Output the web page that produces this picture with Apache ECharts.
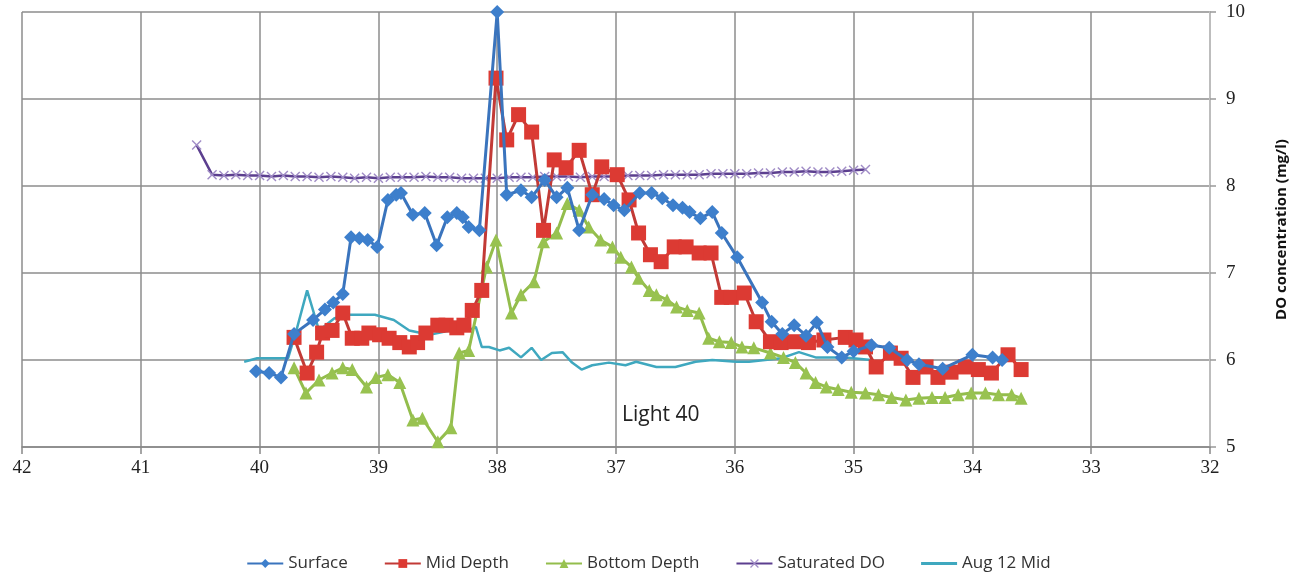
<!DOCTYPE html>
<html>
<head>
<meta charset="utf-8">
<script src="https://cdn.jsdelivr.net/npm/echarts@6/dist/echarts.min.js"></script>
<style>
  html, body { margin: 0; padding: 0; background: #fff; }
  #chart { width: 1297px; height: 581px; }
</style>
</head>
<body>
<div id="chart"></div>
<script>
// distance (x) and DO (mg/l)
const surfaceX = [40.03, 39.92, 39.82, 39.71, 39.55, 39.45, 39.38, 39.30, 39.23, 39.16, 39.09, 39.01, 38.92, 38.85, 38.81, 38.71, 38.61, 38.51, 38.42, 38.34, 38.29, 38.24, 38.15, 38.00, 37.92, 37.80, 37.71, 37.60, 37.50, 37.41, 37.31, 37.20, 37.10, 37.02, 36.93, 36.80, 36.70, 36.61, 36.52, 36.44, 36.38, 36.29, 36.19, 36.11, 35.98, 35.77, 35.69, 35.60, 35.50, 35.40, 35.31, 35.22, 35.10, 35.00, 34.85, 34.70, 34.55, 34.45, 34.25, 34.00, 33.83, 33.75];
const surfaceY = [5.87, 5.85, 5.80, 6.30, 6.46, 6.58, 6.66, 6.76, 7.41, 7.40, 7.38, 7.30, 7.84, 7.90, 7.92, 7.67, 7.69, 7.32, 7.64, 7.69, 7.64, 7.53, 7.49, 10.0, 7.90, 7.95, 7.87, 8.07, 7.87, 7.98, 7.49, 7.90, 7.85, 7.78, 7.72, 7.92, 7.92, 7.86, 7.78, 7.75, 7.70, 7.63, 7.70, 7.46, 7.18, 6.66, 6.44, 6.30, 6.40, 6.28, 6.43, 6.15, 6.03, 6.10, 6.17, 6.14, 6.00, 5.95, 5.90, 6.06, 6.03, 6.00];

const midX = [39.71, 39.60, 39.52, 39.47, 39.39, 39.30, 39.22, 39.14, 39.08, 38.99, 38.91, 38.82, 38.74, 38.67, 38.60, 38.50, 38.43, 38.34, 38.28, 38.21, 38.13, 38.01, 37.92, 37.82, 37.71, 37.61, 37.52, 37.42, 37.31, 37.20, 37.12, 36.99, 36.89, 36.81, 36.71, 36.62, 36.51, 36.41, 36.30, 36.20, 36.11, 36.03, 35.92, 35.82, 35.70, 35.61, 35.49, 35.38, 35.25, 35.07, 34.98, 34.90, 34.81, 34.69, 34.60, 34.50, 34.39, 34.29, 34.18, 34.06, 33.95, 33.84, 33.70, 33.59];
const midY = [6.26, 5.85, 6.09, 6.31, 6.34, 6.54, 6.25, 6.25, 6.31, 6.29, 6.25, 6.20, 6.15, 6.20, 6.31, 6.40, 6.40, 6.37, 6.40, 6.57, 6.80, 9.24, 8.53, 8.82, 8.62, 7.49, 8.30, 8.21, 8.41, 7.90, 8.22, 8.13, 7.84, 7.46, 7.21, 7.13, 7.30, 7.30, 7.23, 7.23, 6.72, 6.72, 6.77, 6.44, 6.21, 6.20, 6.21, 6.20, 6.23, 6.26, 6.23, 6.15, 5.92, 6.08, 6.02, 5.80, 5.92, 5.80, 5.86, 5.92, 5.89, 5.85, 6.06, 5.89];

const bottomX = [39.71, 39.61, 39.50, 39.39, 39.30, 39.22, 39.10, 39.02, 38.92, 38.82, 38.71, 38.63, 38.50, 38.39, 38.32, 38.24, 38.09, 38.01, 37.88, 37.80, 37.69, 37.61, 37.50, 37.41, 37.31, 37.23, 37.13, 37.03, 36.96, 36.87, 36.81, 36.72, 36.66, 36.57, 36.49, 36.40, 36.30, 36.22, 36.13, 36.03, 35.94, 35.84, 35.70, 35.59, 35.49, 35.40, 35.32, 35.23, 35.13, 35.02, 34.90, 34.79, 34.68, 34.56, 34.45, 34.34, 34.23, 34.12, 34.01, 33.89, 33.78, 33.67, 33.59];
const bottomY = [5.91, 5.62, 5.77, 5.85, 5.91, 5.89, 5.69, 5.80, 5.83, 5.74, 5.31, 5.33, 5.06, 5.22, 6.08, 6.11, 7.07, 7.38, 6.54, 6.75, 6.90, 7.36, 7.46, 7.80, 7.72, 7.53, 7.38, 7.30, 7.18, 7.07, 6.94, 6.80, 6.75, 6.69, 6.61, 6.57, 6.54, 6.25, 6.21, 6.20, 6.15, 6.14, 6.08, 6.03, 5.97, 5.85, 5.74, 5.69, 5.66, 5.63, 5.62, 5.60, 5.57, 5.54, 5.56, 5.57, 5.57, 5.60, 5.62, 5.62, 5.60, 5.60, 5.56];

const satX = [40.53, 40.40, 40.30, 40.20, 40.10, 40.00, 39.90, 39.80, 39.70, 39.60, 39.50, 39.40, 39.30, 39.20, 39.10, 39.00, 38.90, 38.80, 38.70, 38.60, 38.50, 38.40, 38.30, 38.20, 38.10, 38.00, 37.90, 37.80, 37.70, 37.60, 37.50, 37.40, 37.30, 37.20, 37.10, 37.00, 36.90, 36.80, 36.70, 36.60, 36.50, 36.40, 36.30, 36.20, 36.10, 36.00, 35.90, 35.80, 35.70, 35.60, 35.50, 35.40, 35.30, 35.20, 35.10, 35.00, 34.90];
const satY = [8.47, 8.13, 8.12, 8.13, 8.12, 8.12, 8.11, 8.12, 8.11, 8.11, 8.10, 8.11, 8.10, 8.09, 8.10, 8.09, 8.10, 8.10, 8.10, 8.11, 8.10, 8.10, 8.09, 8.09, 8.09, 8.09, 8.10, 8.10, 8.10, 8.11, 8.11, 8.11, 8.10, 8.11, 8.11, 8.11, 8.12, 8.12, 8.12, 8.13, 8.13, 8.13, 8.13, 8.14, 8.14, 8.14, 8.14, 8.15, 8.15, 8.16, 8.16, 8.17, 8.16, 8.16, 8.17, 8.18, 8.19];

const aug12X = [40.13, 40.02, 39.87, 39.76, 39.69, 39.60, 39.55, 39.50, 39.37, 39.24, 39.03, 38.87, 38.74, 38.57, 38.40, 38.24, 38.18, 38.13, 38.07, 37.98, 37.90, 37.80, 37.71, 37.63, 37.54, 37.45, 37.37, 37.29, 37.20, 37.06, 36.92, 36.83, 36.66, 36.50, 36.33, 36.19, 35.99, 35.88, 35.61, 35.46, 35.32, 35.07, 34.85];
const aug12Y = [5.98, 6.02, 6.02, 6.02, 6.34, 6.80, 6.57, 6.34, 6.48, 6.52, 6.52, 6.46, 6.34, 6.29, 6.34, 6.34, 6.38, 6.15, 6.15, 6.11, 6.14, 6.03, 6.14, 6.00, 6.08, 6.09, 5.97, 5.89, 5.94, 5.97, 5.94, 5.98, 5.92, 5.92, 5.98, 6.00, 5.98, 5.98, 6.02, 6.09, 6.03, 6.03, 6.00];

const xMin = 32, xMax = 42;
const yMin = 5, yMax = 10;

function pairs(xs, ys) {
    return xs.map((x, i) => [x, ys[i]])
}

const crossPath = 'path://M0,1L1,0L5,4L9,0L10,1L6,5L10,9L9,10L5,6L1,10L0,9L4,5Z';
const linePath = 'path://M0,4L36,4L36,7L0,7Z';
const tickFont = {fontFamily: 'Liberation Serif', fontSize: 19, color: '#222'};
const legendFont = 'Liberation Sans Narrow, Open Sans, sans-serif';

let chart = echarts.init(document.getElementById('chart'));
chart.setOption({
    animation: false,
    backgroundColor: '#fff',
    grid: {left: 22, right: 85, top: 12, bottom: 134},
    xAxis: {
        type: 'value', min: xMin, max: xMax, interval: 1, inverse: true,
        axisLine: {lineStyle: {color: '#888', width: 1.5}},
        axisTick: {show: true, length: 7, lineStyle: {color: '#888', width: 1.5}},
        axisLabel: Object.assign({margin: 12}, tickFont),
        splitLine: {show: true, lineStyle: {color: '#8c8c8c', width: 1.5}}
    },
    yAxis: {
        type: 'value', min: yMin, max: yMax, interval: 1, position: 'right',
        axisLine: {show: true, lineStyle: {color: '#bdbdbd', width: 2}},
        axisTick: {show: true, length: 6, lineStyle: {color: '#999', width: 1.5}},
        axisLabel: Object.assign({margin: 16}, tickFont),
        splitLine: {show: true, lineStyle: {color: '#8c8c8c', width: 1.5}},
        name: 'DO concentration (mg/l)',
        nameLocation: 'middle', nameRotate: 90, nameGap: 64,
        nameTextStyle: {fontFamily: 'Open Sans', fontWeight: 'bold', fontSize: 15, color: '#111'}
    },
    legend: {
        bottom: 4, left: 'center', itemGap: 36, itemWidth: 36, itemHeight: 11,
        textStyle: {fontFamily: legendFont, fontSize: 17, color: '#333'},
        data: ['Surface', 'Mid Depth', 'Bottom Depth', 'Saturated DO', {name: 'Aug 12 Mid', icon: linePath}]
    },
    graphic: [{
        type: 'text', left: 622, top: 405,
        style: {text: 'Light 40', fontFamily: legendFont, fontSize: 21, fill: '#222'}
    }],
    series: [
        {
            name: 'Aug 12 Mid', type: 'line', data: pairs(aug12X, aug12Y), z: 1,
            showSymbol: false, symbol: 'none',
            lineStyle: {color: '#3fa8bf', width: 2.5}, itemStyle: {color: '#3fa8bf'}
        },
        {
            name: 'Saturated DO', type: 'line', data: pairs(satX, satY), z: 2,
            symbol: crossPath, symbolSize: 10,
            lineStyle: {color: '#5c3f8f', width: 2.5},
            itemStyle: {color: '#a08cc6'}
        },
        {
            name: 'Bottom Depth', type: 'line', data: pairs(bottomX, bottomY), z: 3,
            symbol: 'triangle', symbolSize: 13,
            lineStyle: {color: '#93bd4c', width: 3}, itemStyle: {color: '#98c250'}
        },
        {
            name: 'Mid Depth', type: 'line', data: pairs(midX, midY), z: 4,
            symbol: 'rect', symbolSize: 15,
            lineStyle: {color: '#c23a36', width: 3}, itemStyle: {color: '#dc3a33'}
        },
        {
            name: 'Surface', type: 'line', data: pairs(surfaceX, surfaceY), z: 5,
            symbol: 'diamond', symbolSize: 14, clip: false,
            lineStyle: {color: '#3a74bd', width: 3}, itemStyle: {color: '#3d7fcc'}
        }
    ]
});
</script>
</body>
</html>
